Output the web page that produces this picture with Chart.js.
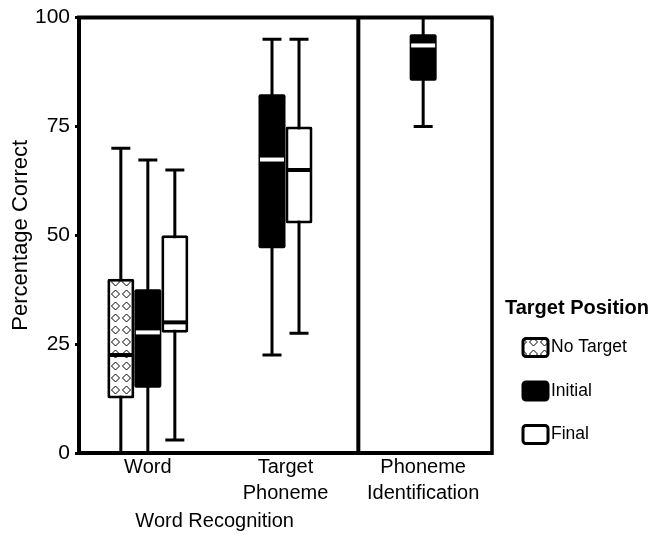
<!DOCTYPE html>
<html>
<head>
<meta charset="utf-8">
<script src="https://cdn.jsdelivr.net/npm/chart.js@4.4.1/dist/chart.umd.min.js"></script>
<style>
  html, body { margin: 0; padding: 0; background: #ffffff; }
  #wrap { width: 655px; height: 542px; }
</style>
</head>
<body>
<div id="wrap"><canvas id="c" width="655" height="542"></canvas></div>
<script>
// ---------- data ----------
const categories = [['Word'], ['Target', 'Phoneme'], ['Phoneme', 'Identification']];
const seriesNames = ['No Target', 'Initial', 'Final'];
const yTicks = [0, 25, 50, 75, 100];
const groupLabel = 'Word Recognition';
const groupCategories = [0, 1];
const legendTitle = 'Target Position';
const yTitle = 'Percentage Correct';

const noTargetMin    = [0,    null, null];
const noTargetQ1     = [12.5, null, null];
const noTargetMedian = [22.5, null, null];
const noTargetQ3     = [40,   null, null];
const noTargetMax    = [70,   null, null];

const initialMin    = [0,    22.5, 75];
const initialQ1     = [15,   47,   85.5];
const initialMedian = [27.7, 67.4, 93.6];
const initialQ3     = [37.6, 82.4, 96.2];
const initialMax    = [67.3, 95,   100];

const finalMin    = [3,    27.5, null];
const finalQ1     = [27.6, 52.7, null];
const finalMedian = [30,   65,   null];
const finalQ3     = [50,   75,   null];
const finalMax    = [65,   95,   null];

// ---------- helpers ----------
const FONT = "'Liberation Sans', Arial, Helvetica, sans-serif";
Chart.defaults.font.family = FONT;
Chart.defaults.color = '#000';

function makeDiamondPattern() {
  const t = document.createElement('canvas');
  t.width = 11; t.height = 12;
  const g = t.getContext('2d');
  g.fillStyle = '#fff';
  g.fillRect(0, 0, 11, 12);
  g.strokeStyle = '#000';
  g.lineWidth = 1;
  g.beginPath();
  g.moveTo(5.5, 2); g.lineTo(9.5, 6); g.lineTo(5.5, 10); g.lineTo(1.5, 6); g.closePath();
  g.stroke();
  return g.createPattern(t, 'repeat');
}

function boxes(q1, q3) {
  return q1.map((v, i) => (v === null || q3[i] === null) ? null : [v, q3[i]]);
}

const stats = [
  { min: noTargetMin, med: noTargetMedian, max: noTargetMax },
  { min: initialMin,  med: initialMedian,  max: initialMax },
  { min: finalMin,    med: finalMedian,    max: finalMax }
];

const fills = [makeDiamondPattern(), '#000000', '#ffffff'];
const borders = [3, 0, 3];
const medianColors = ['#000000', '#ffffff', '#000000'];

const datasets = [
  { label: seriesNames[0], data: boxes(noTargetQ1, noTargetQ3) },
  { label: seriesNames[1], data: boxes(initialQ1, initialQ3) },
  { label: seriesNames[2], data: boxes(finalQ1, finalQ3) }
].map((d, i) => Object.assign(d, {
  backgroundColor: fills[i],
  borderColor: '#000000',
  borderWidth: borders[i],
  borderSkipped: false,
  borderRadius: 2,
  barThickness: 27,
  skipNull: true,
  inflateAmount: 0
}));

// whiskers (behind boxes) and medians (on top)
const boxPlotPlugin = {
  id: 'boxPlotParts',
  beforeDatasetsDraw(chart) {
    const ctx = chart.ctx, y = chart.scales.y;
    ctx.save();
    ctx.strokeStyle = '#000';
    ctx.lineWidth = 3;
    ctx.lineCap = 'butt';
    stats.forEach((s, di) => {
      const meta = chart.getDatasetMeta(di);
      meta.data.forEach((el, j) => {
        if (s.min[j] === null) return;
        const x = el.x;
        const y0 = y.getPixelForValue(s.min[j]);
        const y1 = y.getPixelForValue(s.max[j]);
        ctx.beginPath();
        ctx.moveTo(x, y0); ctx.lineTo(x, y1);
        ctx.moveTo(x - 9.5, y0); ctx.lineTo(x + 9.5, y0);
        ctx.moveTo(x - 9.5, y1); ctx.lineTo(x + 9.5, y1);
        ctx.stroke();
      });
    });
    ctx.restore();
  },
  afterDatasetsDraw(chart) {
    const ctx = chart.ctx, y = chart.scales.y;
    ctx.save();
    ctx.lineWidth = 4;
    stats.forEach((s, di) => {
      const meta = chart.getDatasetMeta(di);
      ctx.strokeStyle = medianColors[di];
      meta.data.forEach((el, j) => {
        if (s.med[j] === null) return;
        const ym = y.getPixelForValue(s.med[j]);
        const half = el.width / 2 - 1.5;
        ctx.beginPath();
        ctx.moveTo(el.x - half, ym); ctx.lineTo(el.x + half, ym);
        ctx.stroke();
      });
    });
    ctx.restore();
  }
};

// frame: top line, right line, separator, group label
const framePlugin = {
  id: 'frame',
  afterDraw(chart) {
    const ctx = chart.ctx, a = chart.chartArea, xs = chart.scales.x;
    ctx.save();
    ctx.strokeStyle = '#000';
    ctx.lineWidth = 4;
    ctx.beginPath();
    ctx.moveTo(a.left - 2, a.top); ctx.lineTo(a.right + 1.5, a.top);
    ctx.stroke();
    ctx.lineWidth = 3.5;
    ctx.beginPath();
    ctx.moveTo(a.right, a.top); ctx.lineTo(a.right, a.bottom + 2);
    ctx.stroke();
    const sep = (xs.getPixelForValue(1) + xs.getPixelForValue(2)) / 2 + 4;
    ctx.lineWidth = 4;
    ctx.beginPath();
    ctx.moveTo(sep, a.top); ctx.lineTo(sep, a.bottom);
    ctx.stroke();
    const gx = (xs.getPixelForValue(groupCategories[0]) + xs.getPixelForValue(groupCategories[1])) / 2 - 2;
    ctx.fillStyle = '#000';
    ctx.font = '20px ' + FONT;
    ctx.textAlign = 'center';
    ctx.textBaseline = 'middle';
    ctx.fillText(groupLabel, gx, a.bottom + 68);
    ctx.restore();
  }
};

// legend drawn from the datasets
const legendPlugin = {
  id: 'sideLegend',
  afterDraw(chart) {
    const ctx = chart.ctx;
    ctx.save();
    ctx.fillStyle = '#000';
    ctx.font = 'bold 20px ' + FONT;
    ctx.textAlign = 'center';
    ctx.textBaseline = 'middle';
    ctx.fillText(legendTitle, 577, 308);
    chart.data.datasets.forEach((ds, i) => {
      const bx = 521.5, by = 337 + i * 43.5, bw = 28, bh = 21;
      ctx.beginPath();
      ctx.roundRect(bx + 1.5, by + 1.5, bw - 3, bh - 3, 3);
      ctx.fillStyle = ds.backgroundColor;
      ctx.fill();
      ctx.lineWidth = 3;
      ctx.strokeStyle = '#000';
      ctx.stroke();
      ctx.fillStyle = '#000';
      ctx.font = '17.5px ' + FONT;
      ctx.textAlign = 'left';
      ctx.textBaseline = 'middle';
      ctx.fillText(ds.label, bx + bw + 1.5, by + bh / 2);
    });
    ctx.restore();
  }
};

new Chart(document.getElementById('c'), {
  type: 'bar',
  data: { labels: categories, datasets: datasets },
  options: {
    responsive: false,
    animation: false,
    devicePixelRatio: 1,
    layout: { padding: { top: 16, right: 163, left: 0, bottom: 0 } },
    plugins: { legend: { display: false }, tooltip: { enabled: false } },
    scales: {
      x: {
        type: 'category',
        offset: true,
        grid: { display: false, drawTicks: false },
        border: { display: true, width: 4, color: '#000' },
        ticks: { color: '#000', font: { size: 20, lineHeight: 1.3 }, padding: 1, maxRotation: 0, autoSkip: false },
        afterFit(s) { s.height = 89; }
      },
      y: {
        min: 0, max: 100,
        afterBuildTicks(s) { s.ticks = yTicks.map(v => ({ value: v })); },
        grid: { display: true, drawOnChartArea: false, drawTicks: true, tickLength: 4, lineWidth: 3, color: '#000' },
        border: { display: true, width: 4, color: '#000' },
        ticks: { color: '#000', font: { size: 21 }, padding: 5 },
        title: { display: true, text: yTitle, color: '#000', font: { size: 22 }, padding: { top: 8, bottom: 0 } },
        afterFit(s) { s.width = 79; }
      }
    }
  },
  plugins: [boxPlotPlugin, framePlugin, legendPlugin]
});
</script>
</body>
</html>
